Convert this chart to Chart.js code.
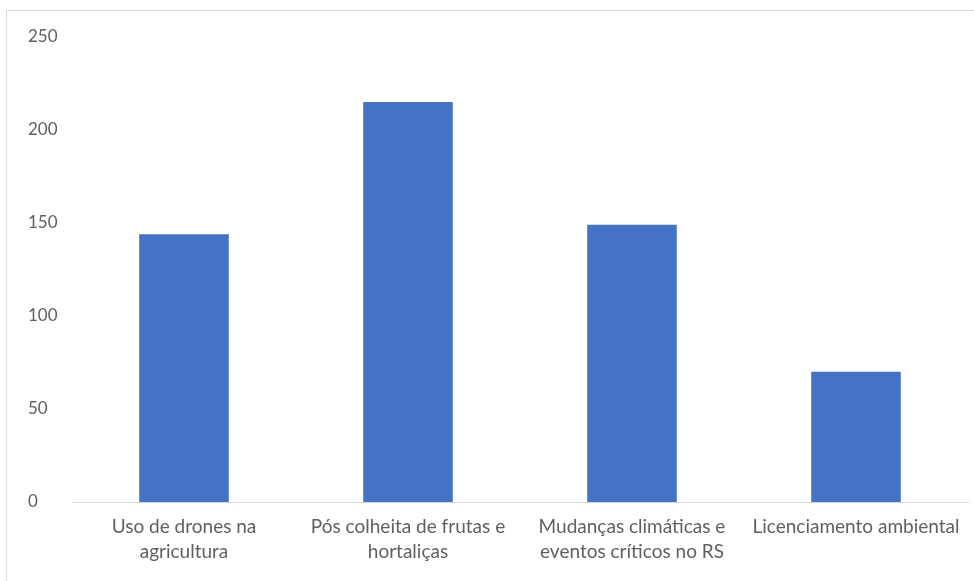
<!DOCTYPE html>
<html>
<head>
<meta charset="utf-8">
<script src="https://cdn.jsdelivr.net/npm/chart.js@4"></script>
<style>
  html, body { margin: 0; padding: 0; background: #fff; }
  #wrap { position: relative; width: 974px; height: 581px; }
  #frame { position: absolute; left: 6px; top: 10px; width: 1000px; height: 600px; border: 1px solid #d9d9d9; }
  canvas { position: absolute; left: 0; top: 0; }
</style>
</head>
<body>
<div id="wrap">
  <div id="frame"></div>
  <canvas id="myChart" width="974" height="581"></canvas>
</div>
<script>
// categories (wrapped like the original)
var categories = [
    ['Uso de drones na', 'agricultura'],
    ['Pós colheita de frutas e', 'hortaliças'],
    ['Mudanças climáticas e', 'eventos críticos no RS'],
    'Licenciamento ambiental'
];
var values = [144, 215, 149, 70];
var yTicks = [0, 50, 100, 150, 200, 250];

var ctx = document.getElementById('myChart').getContext('2d');
var chart = new Chart(ctx, {
    type: 'bar',
    data: {
        labels: categories,
        datasets: [{
            data: values,
            backgroundColor: '#4472c4',
            categoryPercentage: 1,
            barPercentage: 0.4
        }]
    },
    options: {
        responsive: false,
        animation: false,
        layout: { padding: { left: 28, top: 37, right: 6, bottom: 6 } },
        plugins: { legend: { display: false }, tooltip: { enabled: false } },
        scales: {
            x: {
                grid: { display: false, drawTicks: false },
                border: { color: '#d9d9d9', width: 1 },
                ticks: {
                    color: '#606060',
                    font: { family: 'Lato', size: 19, lineHeight: 1.32 },
                    padding: 12,
                    maxRotation: 0,
                    autoSkip: false
                },
                afterFit: function (axis) { axis.height = 73; }
            },
            y: {
                min: 0,
                max: yTicks[yTicks.length - 1],
                afterBuildTicks: function (axis) {
                    axis.ticks = yTicks.map(function (v) { return { value: v }; });
                },
                grid: { display: false, drawTicks: false },
                border: { display: false },
                ticks: {
                    color: '#606060',
                    font: { family: 'Lato', size: 17 },
                    crossAlign: 'far',
                    padding: 0
                },
                afterFit: function (axis) { axis.width = 44; }
            }
        }
    }
});
</script>
</body>
</html>
